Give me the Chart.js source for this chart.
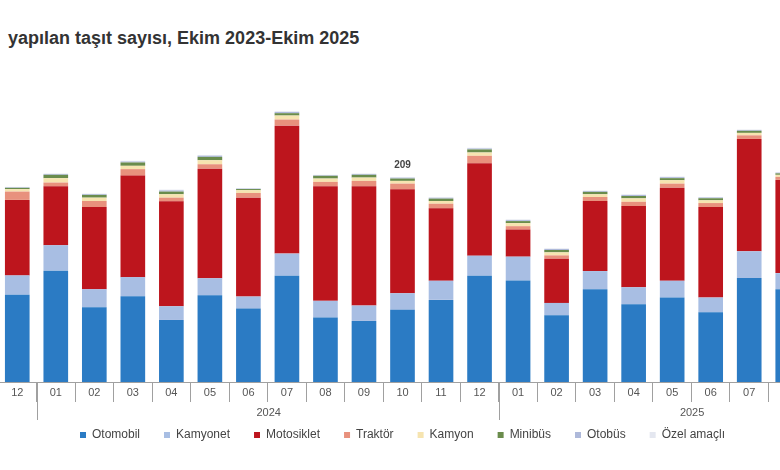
<!DOCTYPE html>
<html lang="tr">
<head>
<meta charset="utf-8">
<script src="https://cdn.jsdelivr.net/npm/chart.js@4.4.1/dist/chart.umd.min.js"></script>
<style>
  html, body { margin: 0; padding: 0; background: #fff; overflow: hidden; }
  body { width: 780px; height: 470px; position: relative; font-family: "Liberation Sans", Arial, sans-serif; }
  #title { position: absolute; left: 8px; top: 28px; font-size: 18px; font-weight: bold; color: #333; white-space: nowrap; }
  #wrap { position: absolute; left: -2px; top: 0; width: 809px; height: 470px; }
</style>
</head>
<body>
<div id="title">yapılan taşıt sayısı, Ekim 2023-Ekim 2025</div>
<div id="wrap"><canvas id="chart"></canvas></div>
<script>
// Aylar (Aralık 2023 - Ağustos 2025, görünen kısım), değerler bin adet
const months = ['12', '01', '02', '03', '04', '05', '06', '07', '08', '09', '10', '11', '12',
                '01', '02', '03', '04', '05', '06', '07', '08'];
const otomobil   = [89.0, 113.6, 76.2, 87.5, 63.3, 88.5, 74.9, 108.4, 65.7, 62.3, 73.6, 83.8, 108.4,
                    103.6, 68.0, 94.7, 79.3, 86.2, 71.1, 106.0, 94.7];
const kamyonet   = [19.8, 26.0, 18.5, 19.5, 14.0, 17.4, 12.3, 22.6, 17.1, 15.7, 17.0, 19.5, 20.5,
                    24.3, 12.7, 18.5, 17.4, 17.1, 15.1, 27.4, 16.4];
const motosiklet = [77.0, 60.2, 83.8, 103.6, 107.1, 111.8, 100.9, 130.6, 117.0, 121.8, 106.1, 73.9, 94.4,
                    27.7, 45.1, 71.5, 82.8, 95.0, 92.3, 114.6, 95.1];
const traktor    = [8.5, 3.7, 6.2, 6.6, 3.7, 4.5, 4.8, 6.2, 4.4, 5.4, 5.7, 4.7, 7.5,
                    3.4, 3.4, 4.1, 4.4, 4.1, 4.1, 3.7, 3.1];
const kamyon     = [2.5, 4.5, 3.4, 3.4, 3.5, 4.1, 2.8, 4.1, 3.4, 3.4, 2.8, 2.8, 3.4,
                    3.1, 3.1, 2.8, 3.5, 3.5, 2.8, 2.5, 2.1];
const minibus    = [1.3, 3.4, 2.8, 3.4, 2.7, 3.4, 1.2, 2.4, 2.8, 2.8, 2.4, 2.4, 3.1,
                    2.1, 2.4, 2.4, 2.4, 2.1, 2.1, 2.1, 1.5];
const otobus     = [0.6, 0.8, 0.8, 1.0, 1.2, 1.2, 0.5, 1.2, 0.6, 0.8, 0.9, 0.9, 1.0,
                    1.0, 1.0, 0.8, 1.0, 1.0, 0.8, 0.8, 0.7];
const ozelAmacli = [0.4, 0.5, 0.5, 0.7, 0.8, 0.8, 0.3, 0.8, 0.4, 0.5, 0.5, 0.5, 0.7,
                    0.7, 0.7, 0.5, 0.7, 0.6, 0.5, 0.5, 0.5];

// Yıl grupları: etiket, başladığı ay indeksi, ay sayısı
const yearLabels = ['2024', '2025'];
const yearStart = [1, 13];
const yearMonths = [12, 10];

// Üzerine toplam yazılan çubuk (Ekim 2024)
const labelIndex = 10;

const font = '"Liberation Sans", Arial, sans-serif';

const series = [
    ['Otomobil', otomobil, '#2b7bc4'],
    ['Kamyonet', kamyonet, '#a8bee3'],
    ['Motosiklet', motosiklet, '#bd151d'],
    ['Traktör', traktor, '#e8917d'],
    ['Kamyon', kamyon, '#f6e4b0'],
    ['Minibüs', minibus, '#6a8c4c'],
    ['Otobüs', otobus, '#aeb9da'],
    ['Özel amaçlı', ozelAmacli, '#e4e7f0']
];

// yıl ayırıcı uzun çizgiler ve yıl etiketleri
const yearTicks = {
    id: 'yearTicks',
    afterDraw(chart) {
        const { ctx, scales: { x } } = chart;
        const step = x.getPixelForValue(1) - x.getPixelForValue(0);
        const base = chart.chartArea.bottom;
        ctx.save();
        ctx.strokeStyle = '#a0a0a0';
        ctx.lineWidth = 1;
        ctx.fillStyle = '#555';
        ctx.font = '11px ' + font;
        ctx.textAlign = 'center';
        ctx.textBaseline = 'middle';
        yearStart.forEach((start, i) => {
            const left = Math.round(x.getPixelForValue(start) - step / 2) + 0.5;
            ctx.beginPath();
            ctx.moveTo(left, base);
            ctx.lineTo(left, base + 38);
            ctx.stroke();
            ctx.fillText(yearLabels[i], left + step * yearMonths[i] / 2, base + 31);
        });
        ctx.restore();
    }
};

const totalLabel = {
    id: 'totalLabel',
    afterDatasetsDraw(chart) {
        const { ctx, scales: { x, y } } = chart;
        const total = chart.data.datasets.reduce((s, d) => s + d.data[labelIndex], 0);
        ctx.save();
        ctx.fillStyle = '#444';
        ctx.font = 'bold 10px ' + font;
        ctx.textAlign = 'center';
        ctx.textBaseline = 'middle';
        ctx.fillText(Math.round(total), x.getPixelForValue(labelIndex), y.getPixelForValue(total) - 12);
        ctx.restore();
    }
};

new Chart(document.getElementById('chart'), {
    type: 'bar',
    data: {
        labels: months,
        datasets: series.map(([label, data, color]) => ({
            label: label,
            data: data,
            backgroundColor: color,
            borderWidth: 0,
            categoryPercentage: 0.8,
            barPercentage: 0.8
        }))
    },
    options: {
        responsive: true,
        maintainAspectRatio: false,
        animation: false,
        layout: { padding: { top: 88, bottom: 19, left: 0, right: 0 } },
        scales: {
            x: {
                stacked: true,
                grid: {
                    display: true,
                    drawOnChartArea: false,
                    drawTicks: true,
                    tickLength: 20,
                    offset: true,
                    color: '#a0a0a0'
                },
                border: { display: true, color: '#a0a0a0' },
                ticks: {
                    color: '#555',
                    font: { family: font, size: 11 },
                    padding: -16,
                    maxRotation: 0,
                    autoSkip: false
                },
                afterFit: (scale) => { scale.height = 23; }
            },
            y: {
                stacked: true,
                display: false,
                min: 0,
                max: 300
            }
        },
        plugins: {
            legend: {
                position: 'bottom',
                labels: {
                    boxWidth: 6,
                    boxHeight: 6,
                    padding: 24,
                    color: '#444',
                    font: { family: font, size: 12 }
                }
            },
            tooltip: { enabled: false }
        }
    },
    plugins: [yearTicks, totalLabel]
});
</script>
</body>
</html>
